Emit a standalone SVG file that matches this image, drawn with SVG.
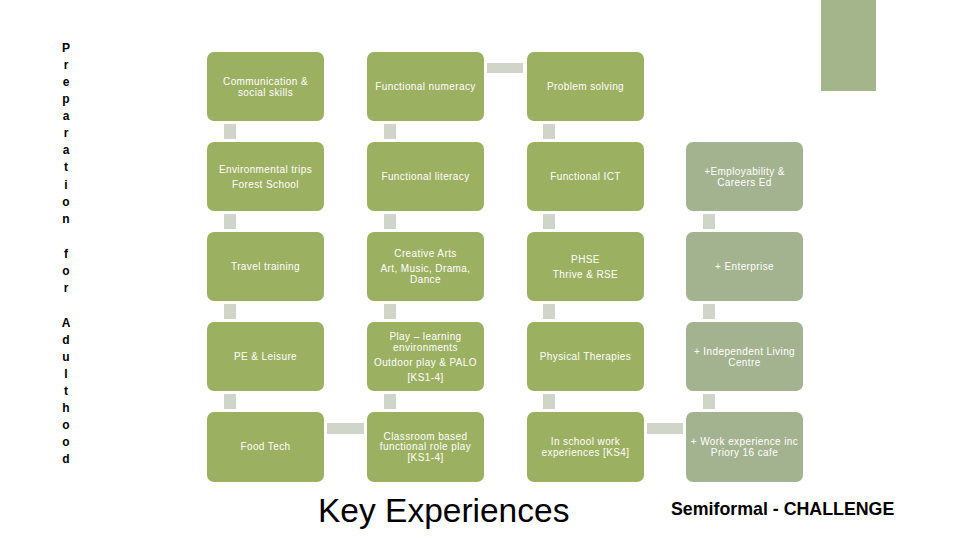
<svg xmlns="http://www.w3.org/2000/svg" width="960" height="540" viewBox="0 0 960 540">
<style>
.n{fill:#9cb062}
.g{fill:#a3b38f}
.c{fill:#cfd6c9}
.t{font-family:"Liberation Sans",Arial,sans-serif;font-size:10px;fill:#fff;text-anchor:middle;letter-spacing:0.4px}
.v{font-family:"Liberation Sans",Arial,sans-serif;font-size:12px;font-weight:bold;fill:#000;text-anchor:middle}
</style>
<rect width="960" height="540" fill="#fff"/>
<rect x="821" y="0" width="55" height="91" fill="#a4b58b"/>
<g id="side-label" class="v">
<text x="66" y="52">P</text><text x="66" y="69">r</text><text x="66" y="86">e</text><text x="66" y="103">p</text><text x="66" y="120">a</text><text x="66" y="137">r</text><text x="66" y="154">a</text><text x="66" y="171">t</text><text x="66" y="189">i</text><text x="66" y="206">o</text><text x="66" y="223">n</text>
<text x="66" y="258">f</text><text x="66" y="275">o</text><text x="66" y="292">r</text>
<text x="66" y="327">A</text><text x="66" y="344">d</text><text x="66" y="361">u</text><text x="66" y="378">l</text><text x="66" y="395">t</text><text x="66" y="412">h</text><text x="66" y="429">o</text><text x="66" y="446">o</text><text x="66" y="463">d</text>
</g>
<g id="connectors" class="c">
<rect x="224" y="124" width="12" height="15"/><rect x="224" y="214" width="12" height="15"/><rect x="224" y="304" width="12" height="15"/><rect x="224" y="394" width="12" height="15"/>
<rect x="384" y="124" width="12" height="15"/><rect x="384" y="214" width="12" height="15"/><rect x="384" y="304" width="12" height="15"/><rect x="384" y="394" width="12" height="15"/>
<rect x="543" y="124" width="12" height="15"/><rect x="543" y="214" width="12" height="15"/><rect x="543" y="304" width="12" height="15"/><rect x="543" y="394" width="12" height="15"/>
<rect x="703" y="214" width="12" height="15"/><rect x="703" y="304" width="12" height="15"/><rect x="703" y="394" width="12" height="15"/>
<rect x="487" y="63" width="36" height="10"/>
<rect x="327" y="423" width="37" height="11"/>
<rect x="647" y="423" width="36" height="11"/>
</g>
<g id="n1"><rect class="n" x="207" y="52" width="117" height="69" rx="7"/><text class="t" x="265.5" y="85">Communication &amp;</text><text class="t" x="265.5" y="96">social skills</text></g>
<g id="n2"><rect class="n" x="367" y="52" width="117" height="69" rx="7"/><text class="t" x="425.5" y="90">Functional numeracy</text></g>
<g id="n3"><rect class="n" x="527" y="52" width="117" height="69" rx="7"/><text class="t" x="585.5" y="90">Problem solving</text></g>
<g id="n4"><rect class="n" x="207" y="142" width="117" height="69" rx="7"/><text class="t" x="265.5" y="173">Environmental trips</text><text class="t" x="265.5" y="188">Forest School</text></g>
<g id="n5"><rect class="n" x="367" y="142" width="117" height="69" rx="7"/><text class="t" x="425.5" y="180">Functional literacy</text></g>
<g id="n6"><rect class="n" x="527" y="142" width="117" height="69" rx="7"/><text class="t" x="585.5" y="180">Functional ICT</text></g>
<g id="n7"><rect class="g" x="686" y="142" width="117" height="69" rx="7"/><text class="t" x="744.5" y="175">+Employability &amp;</text><text class="t" x="744.5" y="186">Careers Ed</text></g>
<g id="n8"><rect class="n" x="207" y="232" width="117" height="69" rx="7"/><text class="t" x="265.5" y="270">Travel training</text></g>
<g id="n9"><rect class="n" x="367" y="232" width="117" height="69" rx="7"/><text class="t" x="425.5" y="257">Creative Arts</text><text class="t" x="425.5" y="272">Art, Music, Drama,</text><text class="t" x="425.5" y="283">Dance</text></g>
<g id="n10"><rect class="n" x="527" y="232" width="117" height="69" rx="7"/><text class="t" x="585.5" y="263">PHSE</text><text class="t" x="585.5" y="278">Thrive &amp; RSE</text></g>
<g id="n11"><rect class="g" x="686" y="232" width="117" height="69" rx="7"/><text class="t" x="744.5" y="270">+ Enterprise</text></g>
<g id="n12"><rect class="n" x="207" y="322" width="117" height="69" rx="7"/><text class="t" x="265.5" y="360">PE &amp; Leisure</text></g>
<g id="n13"><rect class="n" x="367" y="322" width="117" height="69" rx="7"/><text class="t" x="425.5" y="340">Play – learning</text><text class="t" x="425.5" y="351">environments</text><text class="t" x="425.5" y="366">Outdoor play &amp; PALO</text><text class="t" x="425.5" y="381">[KS1-4]</text></g>
<g id="n14"><rect class="n" x="527" y="322" width="117" height="69" rx="7"/><text class="t" x="585.5" y="360">Physical Therapies</text></g>
<g id="n15"><rect class="g" x="686" y="322" width="117" height="69" rx="7"/><text class="t" x="744.5" y="355">+ Independent Living</text><text class="t" x="744.5" y="366">Centre</text></g>
<g id="n16"><rect class="n" x="207" y="412" width="117" height="70" rx="7"/><text class="t" x="265.5" y="450">Food Tech</text></g>
<g id="n17"><rect class="n" x="367" y="412" width="117" height="70" rx="7"/><text class="t" x="425.5" y="440">Classroom based</text><text class="t" x="425.5" y="450">functional role play</text><text class="t" x="425.5" y="461">[KS1-4]</text></g>
<g id="n18"><rect class="n" x="527" y="412" width="117" height="70" rx="7"/><text class="t" x="585.5" y="445">In school work</text><text class="t" x="585.5" y="456">experiences [KS4]</text></g>
<g id="n19"><rect class="g" x="686" y="412" width="117" height="70" rx="7"/><text class="t" x="744.5" y="445">+ Work experience inc</text><text class="t" x="744.5" y="456">Priory 16 cafe</text></g>
<text x="318" y="522" font-family="Liberation Sans,Arial,sans-serif" font-size="33.5" fill="#000">Key Experiences</text>
<text x="671" y="515" font-family="Liberation Sans,Arial,sans-serif" font-size="17.8" font-weight="bold" fill="#000">Semiformal - CHALLENGE</text>
</svg>
